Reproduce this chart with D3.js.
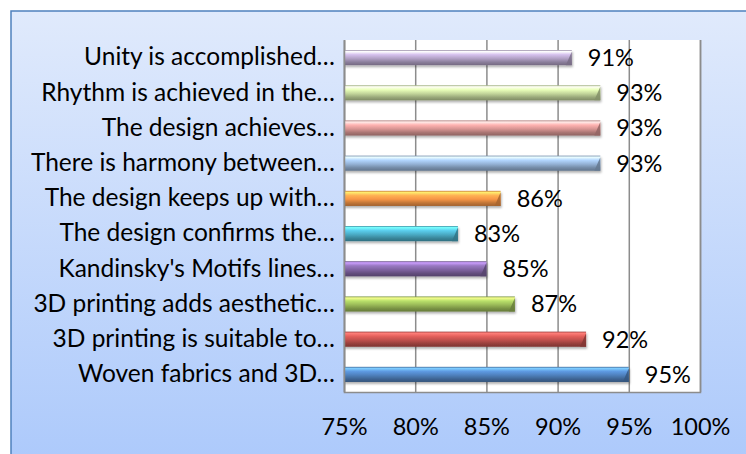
<!DOCTYPE html>
<html>
<head>
<meta charset="utf-8">
<script src="https://cdn.jsdelivr.net/npm/d3@7"></script>
<style>
  html, body { margin: 0; padding: 0; background: #fff; }
  svg { display: block; }
</style>
</head>
<body>
<svg id="chart" width="746" height="454"></svg>
<script>
// categories, top to bottom as shown
const categories = [
  "Unity is accomplished…",
  "Rhythm is achieved in the…",
  "The design achieves…",
  "There is harmony between…",
  "The design keeps up with…",
  "The design confirms the…",
  "Kandinsky's Motifs lines…",
  "3D printing adds aesthetic…",
  "3D printing is suitable to…",
  "Woven fabrics and 3D…"
];
const values = [0.91, 0.93, 0.93, 0.93, 0.86, 0.83, 0.85, 0.87, 0.92, 0.95];
const barColors = ["#b3a2c7", "#c3d69b", "#d99694", "#95b3d7", "#f79646",
                   "#4bacc6", "#8064a2", "#9bbb59", "#c0504d", "#4f81bd"];
const tickValues = [0.75, 0.80, 0.85, 0.90, 0.95, 1.00];

const svg = d3.select("#chart");
const width = 746, height = 454;
const font = "Lato, 'Open Sans', sans-serif";

const defs = svg.append("defs");

// fond dégradé bleu
const bg = defs.append("linearGradient").attr("id", "bg")
  .attr("x1", 0).attr("y1", 0).attr("x2", 0).attr("y2", 1);
bg.append("stop").attr("offset", "0%").attr("stop-color", "#e0eafc");
bg.append("stop").attr("offset", "100%").attr("stop-color", "#a7c6fb");

const shadow = defs.append("filter").attr("id", "shadow")
  .attr("x", "-5%").attr("y", "-50%").attr("width", "110%").attr("height", "220%");
shadow.append("feDropShadow").attr("dx", 1).attr("dy", 2)
  .attr("stdDeviation", 1.2).attr("flood-color", "#000").attr("flood-opacity", 0.3);

svg.append("rect").attr("x", 11).attr("y", 11)
  .attr("width", 800).attr("height", 500)
  .attr("fill", "url(#bg)").attr("stroke", "#4f81bd").attr("stroke-width", 1.5);

// zone de tracé
const plot = { left: 344, right: 700, top: 40, bottom: 392 };

const x = d3.scaleLinear().domain([0.75, 1.0]).range([plot.left, plot.right]);
const y = d3.scaleBand().domain(categories).range([plot.top, plot.bottom])
  .paddingInner(0.57).paddingOuter(0.285);

svg.append("rect").attr("x", plot.left).attr("y", plot.top)
  .attr("width", plot.right - plot.left).attr("height", plot.bottom - plot.top)
  .attr("fill", "#fff");

// quadrillage
svg.append("g")
  .attr("transform", `translate(0, ${plot.bottom})`)
  .call(d3.axisBottom(x).tickValues(tickValues).tickSize(-(plot.bottom - plot.top)).tickFormat(""))
  .call(g => g.select(".domain").attr("stroke", "#8c8c8c").attr("stroke-width", 1.5))
  .call(g => g.selectAll(".tick line").attr("stroke", "#8c8c8c").attr("stroke-width", 1.5));

// dégradés des barres
barColors.forEach((c, i) => {
  const base = d3.color(c);
  const gr = defs.append("linearGradient").attr("id", "bar" + i)
    .attr("x1", 0).attr("y1", 0).attr("x2", 0).attr("y2", 1);
  gr.append("stop").attr("offset", "0%").attr("stop-color", base.darker(0.6));
  gr.append("stop").attr("offset", "10%").attr("stop-color", base.brighter(1.3));
  gr.append("stop").attr("offset", "30%").attr("stop-color", base.brighter(0.5));
  gr.append("stop").attr("offset", "55%").attr("stop-color", base);
  gr.append("stop").attr("offset", "80%").attr("stop-color", base.darker(0.7));
  gr.append("stop").attr("offset", "100%").attr("stop-color", base.darker(1.2));
});

const bars = svg.append("g").selectAll("g")
  .data(categories)
  .enter()
  .append("g");

bars.append("rect")
  .attr("x", plot.left)
  .attr("y", d => y(d))
  .attr("width", (d, i) => x(values[i]) - plot.left)
  .attr("height", y.bandwidth())
  .attr("fill", (d, i) => `url(#bar${i})`)
  .attr("filter", "url(#shadow)");

// biseau au bout de la barre
bars.append("path")
  .attr("d", (d, i) => {
    const xe = x(values[i]), y0 = y(d), h = y.bandwidth();
    return `M${xe},${y0 + 1.5} L${xe},${y0 + h} L${xe - 6},${y0 + h} Z`;
  })
  .attr("fill", (d, i) => d3.color(barColors[i]).darker(1.1))
  .attr("opacity", 0.85);

// étiquettes de valeur
svg.append("g").selectAll("text")
  .data(categories)
  .enter()
  .append("text")
  .attr("x", (d, i) => x(values[i]) + 16)
  .attr("y", d => y(d) + y.bandwidth() / 2)
  .attr("dy", "0.36em")
  .attr("font-family", font)
  .attr("font-size", 23.5)
  .attr("fill", "#000")
  .text((d, i) => d3.format(".0%")(values[i]));

// axe des catégories
svg.append("g")
  .attr("transform", `translate(${plot.left}, 0)`)
  .call(d3.axisLeft(y).tickSize(0).tickPadding(9))
  .call(g => g.select(".domain").attr("stroke", "#8c8c8c").attr("stroke-width", 1.5))
  .call(g => g.selectAll("text").attr("font-family", font).attr("font-size", 24.5).attr("fill", "#000"));

// axe des valeurs
svg.append("g")
  .attr("transform", `translate(0, ${plot.bottom})`)
  .call(d3.axisBottom(x).tickValues(tickValues).tickSize(0).tickPadding(26).tickFormat(d3.format(".0%")))
  .call(g => g.select(".domain").remove())
  .call(g => g.selectAll("text").attr("font-family", font).attr("font-size", 23.5).attr("fill", "#000"));
</script>
</body>
</html>
